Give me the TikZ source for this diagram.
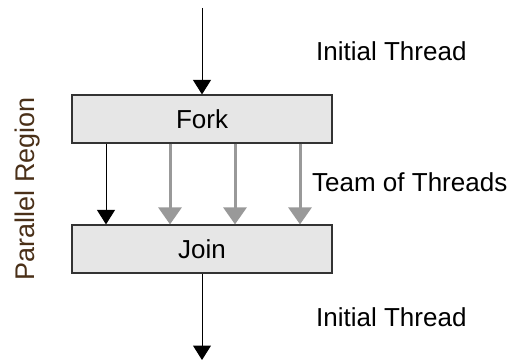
\documentclass[tikz,border=0pt]{standalone}
\usepackage{fontspec}
\setmainfont{Liberation Sans}
\usetikzlibrary{arrows.meta}
\definecolor{boxfill}{HTML}{E6E6E6}
\definecolor{boxline}{HTML}{333333}
\definecolor{thread}{HTML}{999999}
\definecolor{regiontext}{HTML}{4A3018}
\tikzset{
  stagebox/.style={draw=boxline, line width=1.2pt, fill=boxfill, minimum width=260pt, minimum height=48pt, inner sep=0pt, font=\fontsize{26}{30}\selectfont},
  mainarrow/.style={draw=black, line width=1pt, -{Triangle[length=14.5pt, width=18pt]}},
  teamarrow/.style={draw=thread, line width=3pt, -{Triangle[length=17pt, width=23pt]}},
  label/.style={font=\fontsize{26}{30}\selectfont, inner sep=0pt, anchor=base west}
}
\begin{document}
\begin{tikzpicture}[x=1pt, y=1pt]
\useasboundingbox (0,0) rectangle (520,362);
\node[stagebox] (fork) at (202,243) {Fork};
\node[stagebox] (join) at (202,113) {Join};
\coordinate (start) at (202,354);
\coordinate (finish) at (202,2);
\coordinate (c1) at (106,0);
\coordinate (c2) at (170,0);
\coordinate (c3) at (235,0);
\coordinate (c4) at (300,0);
\draw[mainarrow] (start) -- (fork.north);
\draw[mainarrow] (join.south) -- (finish);
\draw[mainarrow] (fork.south -| c1) -- (join.north -| c1);
\draw[teamarrow] (fork.south -| c2) -- (join.north -| c2);
\draw[teamarrow] (fork.south -| c3) -- (join.north -| c3);
\draw[teamarrow] (fork.south -| c4) -- (join.north -| c4);
\node[label] (init1) at (316,301) {Initial Thread};
\node[label] (team) at (312,170) {Team of Threads};
\node[label] (init2) at (316,35) {Initial Thread};
\node[font=\fontsize{27}{31}\selectfont, text=regiontext, rotate=90, inner sep=0pt] (region) at (28,173.5) {Parallel Region};
\end{tikzpicture}
\end{document}
